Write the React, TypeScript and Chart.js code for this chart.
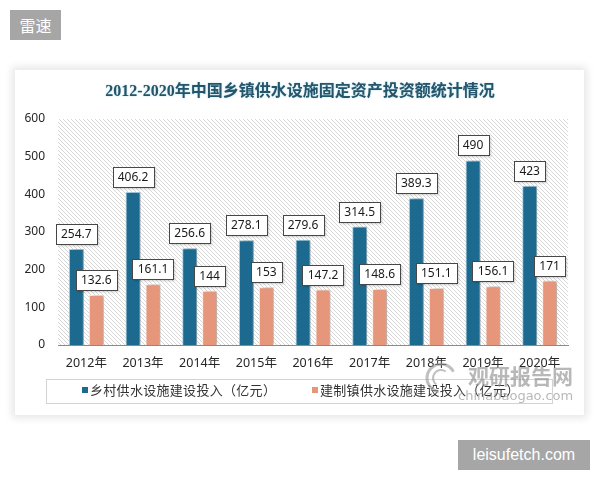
import React, { useEffect, useRef } from "react";
import { Chart, registerables } from "chart.js";

Chart.register(...registerables);

// Years on the category axis
const years = ["2012年", "2013年", "2014年", "2015年", "2016年", "2017年", "2018年", "2019年", "2020年"];
// 乡村供水设施建设投入（亿元）
const ruralInvestment = [254.7, 406.2, 256.6, 278.1, 279.6, 314.5, 389.3, 490, 423];
// 建制镇供水设施建设投入（亿元）
const townInvestment = [132.6, 161.1, 144, 153, 147.2, 148.6, 151.1, 156.1, 171];
const seriesNames = ["乡村供水设施建设投入（亿元）", "建制镇供水设施建设投入（亿元）"];
const chartTitle = "2012-2020年中国乡镇供水设施固定资产投资额统计情况";
const yMin = 0;
const yMax = 600;
const yStep = 100;

const BLUE = "#1d6a90";
const ORANGE = "#e5967b";
const NUM_FONT = '"Noto Sans", "Liberation Sans", sans-serif';
const CJK_FONT = '"Noto Sans", "Noto Sans CJK SC", sans-serif';

function makeHatch(ctx: CanvasRenderingContext2D) {
  const n = 4;
  const c = document.createElement("canvas");
  c.width = n;
  c.height = n;
  const g = c.getContext("2d")!;
  g.fillStyle = "#ffffff";
  g.fillRect(0, 0, n, n);
  g.strokeStyle = "#d2d2d2";
  g.lineWidth = 0.9;
  g.beginPath();
  g.moveTo(-1, -1);
  g.lineTo(n + 1, n + 1);
  g.moveTo(-1, n - 1);
  g.lineTo(1, n + 1);
  g.moveTo(n - 1, -1);
  g.lineTo(n + 1, 1);
  g.stroke();
  return ctx.createPattern(c, "repeat");
}

const hatchBackground = {
  id: "hatchBackground",
  beforeDraw(chart: any) {
    const { ctx, chartArea } = chart;
    const pat = makeHatch(ctx);
    if (!pat) return;
    ctx.save();
    ctx.fillStyle = pat;
    ctx.fillRect(chartArea.left, chartArea.top, chartArea.right - chartArea.left, chartArea.bottom - chartArea.top);
    ctx.restore();
  },
};

const barShadowAndLabels = {
  id: "barShadowAndLabels",
  beforeDatasetsDraw(chart: any) {
    const ctx = chart.ctx;
    ctx.save();
    ctx.shadowColor = "rgba(0,0,0,0.28)";
    ctx.shadowBlur = 3;
    ctx.shadowOffsetX = 3;
    ctx.shadowOffsetY = 0;
  },
  afterDatasetsDraw(chart: any) {
    const ctx = chart.ctx;
    ctx.restore();
    ctx.save();
    ctx.font = `12px ${NUM_FONT}`;
    ctx.textAlign = "center";
    ctx.textBaseline = "middle";
    chart.data.datasets.forEach((ds: any, di: number) => {
      const meta = chart.getDatasetMeta(di);
      meta.data.forEach((el: any, i: number) => {
        const text = String(ds.data[i]);
        const w = Math.round(ctx.measureText(text).width + 10);
        const h = 20;
        const x = Math.round(el.x - w / 2) + 0.5;
        const y = Math.round(el.y - 5 - h) + 0.5;
        ctx.save();
        ctx.shadowColor = "rgba(0,0,0,0.18)";
        ctx.shadowBlur = 2;
        ctx.shadowOffsetX = 1;
        ctx.shadowOffsetY = 1;
        ctx.fillStyle = "#ffffff";
        ctx.fillRect(x, y, w, h);
        ctx.restore();
        ctx.strokeStyle = "#474747";
        ctx.lineWidth = 1;
        ctx.strokeRect(x, y, w, h);
        ctx.fillStyle = "#1a1a1a";
        ctx.fillText(text, el.x, y + h / 2 + 0.5);
      });
    });
    ctx.restore();
  },
};

const decorations = {
  id: "decorations",
  afterDraw(chart: any) {
    const ctx: CanvasRenderingContext2D = chart.ctx;
    // title
    ctx.save();
    ctx.font = `bold 16px "Liberation Serif", "Noto Sans CJK SC", serif`;
    ctx.textAlign = "center";
    ctx.textBaseline = "middle";
    ctx.shadowColor = "rgba(120,190,210,0.6)";
    ctx.shadowBlur = 2;
    ctx.fillStyle = "#24556b";
    ctx.fillText(chartTitle, 300, 92);
    ctx.restore();

    // legend box
    ctx.save();
    ctx.strokeStyle = "#d3d3d3";
    ctx.lineWidth = 1;
    ctx.strokeRect(46.5, 379.5, 506, 24);
    ctx.font = `13px ${CJK_FONT}`;
    ctx.textBaseline = "middle";
    ctx.textAlign = "left";
    (ctx as any).letterSpacing = "0.3px";
    const starts = [82, 312];
    chart.data.datasets.forEach((ds: any, i: number) => {
      const sx = starts[i];
      ctx.fillStyle = ds.backgroundColor;
      ctx.fillRect(sx, 387, 6, 6);
      ctx.fillStyle = "#333333";
      ctx.fillText(ds.label, sx + 8, 391.5);
    });
    ctx.restore();

    // watermark
    ctx.save();
    ctx.globalAlpha = 0.62;
    ctx.strokeStyle = "#9a9a9a";
    ctx.lineWidth = 3;
    ctx.beginPath();
    ctx.arc(441, 378, 14, Math.PI * 0.55, Math.PI * 1.85);
    ctx.stroke();
    ctx.lineWidth = 2;
    ctx.beginPath();
    ctx.arc(441, 378, 8, Math.PI * 0.7, Math.PI * 1.7);
    ctx.stroke();
    ctx.fillStyle = "#8c8c8c";
    ctx.font = `bold 21px "Noto Sans CJK SC", sans-serif`;
    ctx.textAlign = "left";
    ctx.textBaseline = "middle";
    ctx.fillText("观研报告网", 468, 376);
    ctx.font = `13px "DejaVu Sans", sans-serif`;
    ctx.fillText("chinabaogao.com", 458, 397);
    ctx.restore();
  },
};

export default function App() {
  const canvasRef = useRef<HTMLCanvasElement | null>(null);

  useEffect(() => {
    if (!canvasRef.current) return;
    const chart = new Chart(canvasRef.current, {
      type: "bar",
      data: {
        labels: years,
        datasets: [
          {
            label: seriesNames[0],
            data: ruralInvestment,
            backgroundColor: BLUE,
            borderColor: "rgba(160,205,225,0.9)",
            borderWidth: 1,
            categoryPercentage: 0.705,
            barPercentage: 0.75,
          },
          {
            label: seriesNames[1],
            data: townInvestment,
            backgroundColor: ORANGE,
            borderColor: "rgba(255,235,225,0.95)",
            borderWidth: 1,
            categoryPercentage: 0.705,
            barPercentage: 0.75,
          },
        ],
      },
      options: {
        responsive: false,
        animation: false,
        devicePixelRatio: 1,
        layout: { padding: { top: 119, right: 32, left: 0, bottom: 0 } },
        plugins: {
          legend: { display: false },
          title: { display: false },
          tooltip: { enabled: false },
        },
        scales: {
          x: {
            grid: { display: false, drawTicks: false },
            border: { display: true, color: "#8a8a8a", width: 1 },
            ticks: {
              color: "#262626",
              padding: 11,
              font: { size: 12.5, family: CJK_FONT },
              maxRotation: 0,
              autoSkip: false,
            },
            afterFit(scale: any) {
              scale.height = 135;
            },
          },
          y: {
            min: yMin,
            max: yMax,
            grid: { display: false, drawTicks: false },
            border: { display: false },
            ticks: {
              stepSize: yStep,
              color: "#262626",
              padding: 13,
              font: { size: 12, family: NUM_FONT },
            },
            afterFit(scale: any) {
              scale.width = 58;
            },
          },
        },
      },
      plugins: [hatchBackground, barShadowAndLabels, decorations],
    });
    return () => chart.destroy();
  }, []);

  return (
    <div
      style={{
        position: "fixed",
        left: 0,
        top: 0,
        width: 600,
        height: 480,
        background: "#ffffff",
        overflow: "hidden",
      }}
    >
      <div
        style={{
          position: "absolute",
          left: 10,
          top: 10,
          width: 51,
          height: 30,
          background: "#a6a6a6",
          color: "#ffffff",
          font: '16px "Noto Sans CJK SC", sans-serif',
          lineHeight: "30px",
          textAlign: "center",
        }}
      >
        雷速
      </div>
      <div
        style={{
          position: "absolute",
          left: 15,
          top: 70,
          width: 569,
          height: 345,
          background: "#ffffff",
          boxShadow: "0 0 8px 3px rgba(0,0,0,0.10)",
        }}
      />
      <canvas
        ref={canvasRef}
        width={600}
        height={480}
        style={{ position: "absolute", left: 0, top: 0, width: 600, height: 480 }}
      />
      <div
        style={{
          position: "absolute",
          left: 458,
          top: 440,
          width: 132,
          height: 30,
          background: "#a6a6a6",
          color: "#ffffff",
          font: '16px "Liberation Sans", sans-serif',
          lineHeight: "30px",
          textAlign: "center",
        }}
      >
        leisufetch.com
      </div>
    </div>
  );
}
